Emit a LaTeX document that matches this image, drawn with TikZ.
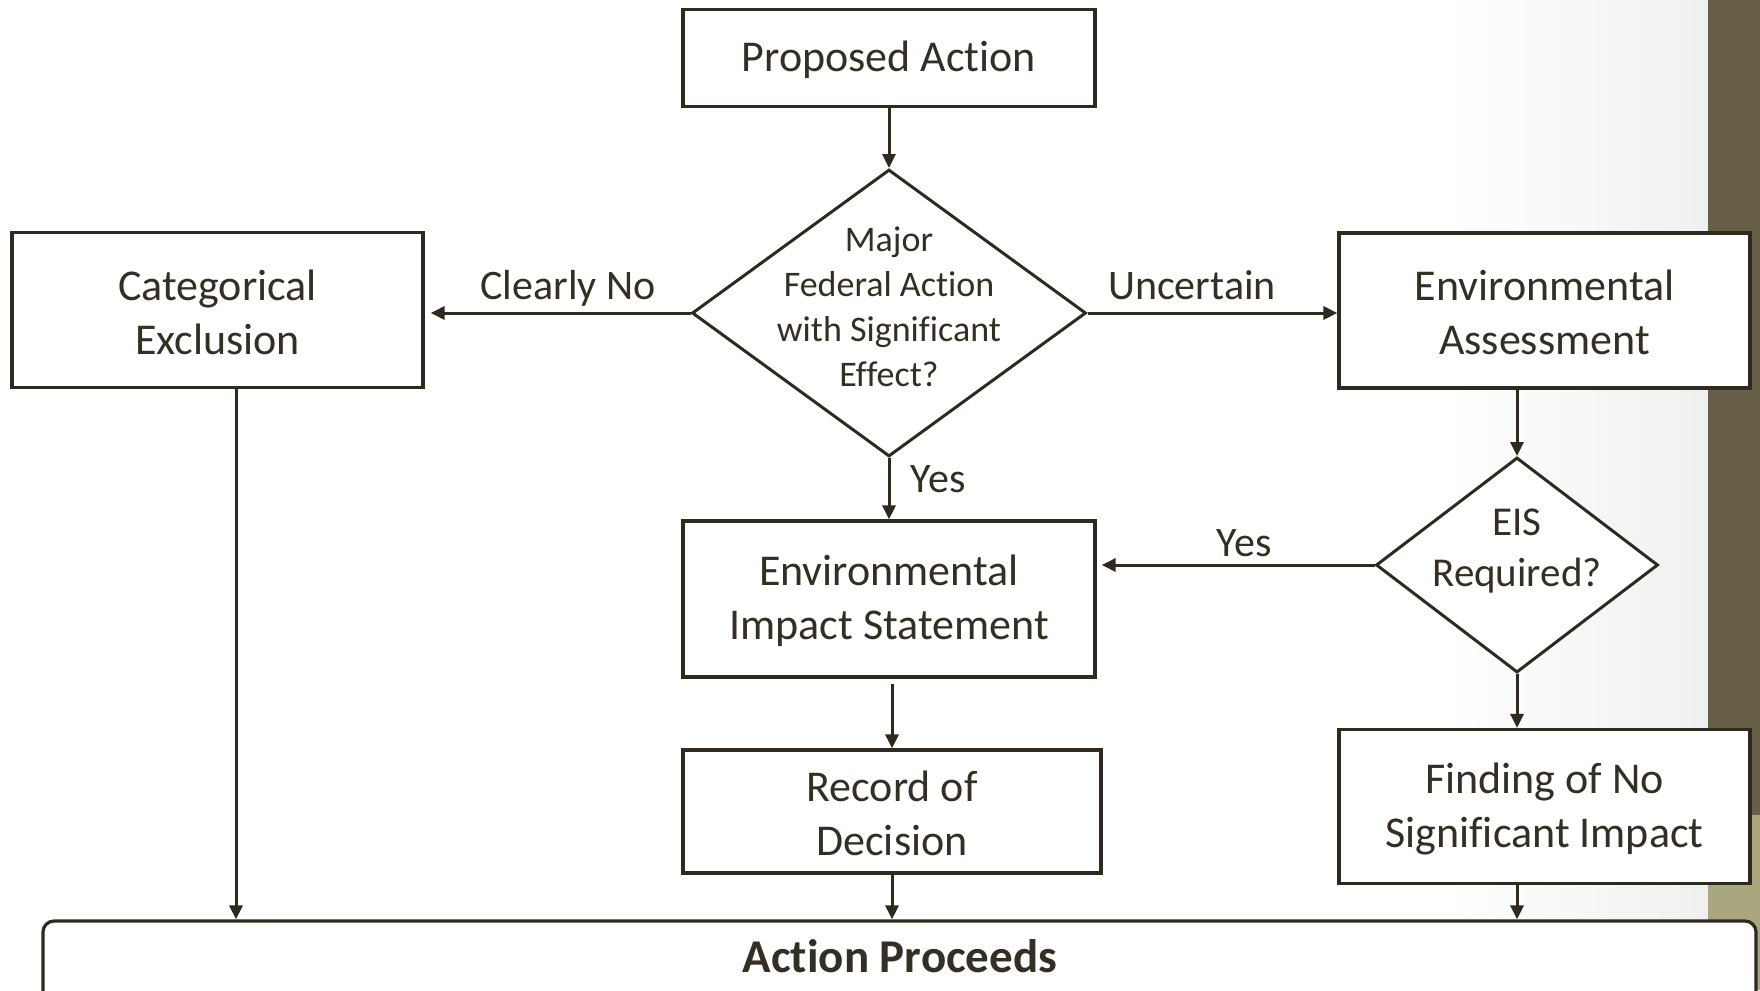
\documentclass[tikz,border=0pt]{standalone}
\usepackage{fontspec}
\setmainfont{Carlito}[Ligatures={NoCommon}]
\usetikzlibrary{shapes.geometric,arrows.meta}
\definecolor{ink}{RGB}{46,42,31}
\definecolor{txt}{RGB}{52,47,36}
\definecolor{olive}{RGB}{104,95,72}
\definecolor{tan}{RGB}{170,166,126}
\tikzset{
  boxnode/.style={draw=ink, line width=3.2pt, fill=white, rectangle, inner sep=0pt,
    label={[boxtext]center:#1}},
  boxtext/.style={text=txt, align=center, inner sep=0pt, yshift=-2pt,
    font=\fontsize{44}{54}\selectfont},
  decnode/.style={draw=ink, line width=3pt, fill=white, diamond, inner sep=0pt},
  dectext/.style={text=txt, align=center, inner sep=0pt},
  lbl/.style={text=txt, inner sep=0pt, font=\fontsize{42}{50}\selectfont},
  arr/.style={draw=ink, line width=3pt, -{Triangle[length=14pt,width=13pt]}},
}
\begin{document}
\begin{tikzpicture}[x=1pt,y=-1pt]
\useasboundingbox (0,0) rectangle (1760,990);
\clip (0,0) rectangle (1760,990);
\fill[white] (0,0) rectangle (1760,990);
\shade[left color=white, right color=black!6] (1450,0) rectangle (1708,990);
\fill[olive] (1708,0) rectangle (1760,815);
\fill[tan] (1708,815) rectangle (1760,990);

% nodes
\node[boxnode={Proposed Action}, minimum width=412pt, minimum height=97pt] (pa) at (889,58) {};
\node[decnode, minimum width=394pt, minimum height=287pt] (d1) at (889,313) {};
\node[dectext, font=\fontsize{36}{45}\selectfont] (d1t) at (889,307) {Major\\Federal Action\\with Significant\\Effect?};
\node[boxnode={Categorical\\Exclusion}, minimum width=411pt, minimum height=155pt] (ce) at (217.5,310) {};
\node[boxnode={Environmental\\Assessment}, minimum width=411pt, minimum height=155pt] (ea) at (1544.5,310.5) {};
\node[decnode, minimum width=282pt, minimum height=215pt] (eisq) at (1517,565) {};
\node[dectext, font=\fontsize{41}{51}\selectfont] (eisqt) at (1517,551) {EIS\\Required?};
\node[boxnode={Environmental\\Impact Statement}, minimum width=412pt, minimum height=156pt] (eis) at (889,599) {};
\node[boxnode={Record of\\Decision}, minimum width=418pt, minimum height=123pt] (rod) at (892,811.5) {};
\node[boxnode={Finding of No\\Significant Impact}, minimum width=411pt, minimum height=154pt] (fonsi) at (1544.5,806.5) {};
\node[draw=ink, line width=3.2pt, fill=white, rectangle, rounded corners=11pt, minimum width=1713pt, minimum height=140pt, inner sep=0pt] (ap) at (899.5,991) {};
\node[text=txt, inner sep=0pt, font=\fontsize{47}{54}\selectfont\bfseries] (apt) at (900,956) {Action Proceeds};

% labels
\node[lbl, anchor=base] (lno) at (568,299) {Clearly No};
\node[lbl, anchor=base] (lunc) at (1192,299) {Uncertain};
\node[lbl] (lyes1) at (938,479) {Yes};
\node[lbl] (lyes2) at (1244,543) {Yes};

% connectors
\draw[arr] (pa.south) -- (d1.north);
\draw[arr, shorten >=6pt] (d1.west) -- (d1.west -| ce.east);
\draw[arr] (d1.east) -- (d1.east -| ea.west);
\draw[arr] (d1.south) -- (eis.north);
\draw[arr] (eisq.north |- ea.south) -- (eisq.north);
\draw[arr, shorten >=5pt] (eisq.west) -- (eisq.west -| eis.east);
\draw[arr] (eisq.south) -- (eisq.south |- fonsi.north);
\draw[arr, shorten <=5pt] (rod.north |- eis.south) -- (rod.north);
\draw[arr] ([xshift=18.5pt]ce.south) -- ([xshift=18.5pt]ce.south |- ap.north);
\draw[arr] (rod.south) -- (rod.south |- ap.north);
\draw[arr] (eisq.south |- fonsi.south) -- (eisq.south |- ap.north);
\end{tikzpicture}
\end{document}
